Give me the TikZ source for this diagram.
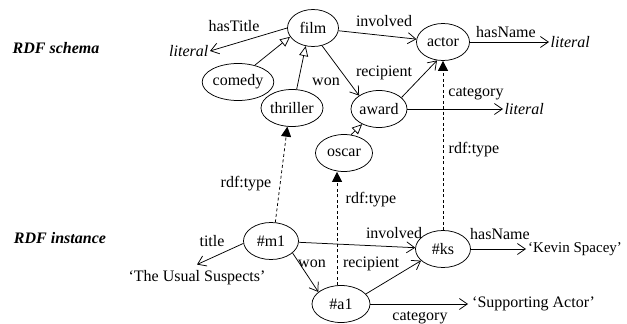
\documentclass[tikz,border=0pt]{standalone}
\usepackage{fontspec}
\setmainfont{Liberation Serif}
\usetikzlibrary{arrows.meta,shapes.geometric}
\begin{document}
\begin{tikzpicture}[x=1pt,y=-1pt,
  font=\fontsize{16}{19}\selectfont,
  cls/.style={draw,ellipse,inner sep=0pt,minimum height=37pt,line width=0.75pt},
  lit/.style={inner sep=1.5pt,font=\fontsize{16}{19}\selectfont\itshape},
  val/.style={inner sep=1.5pt},
  lbl/.style={inner sep=0pt},
  head/.style={inner sep=0pt,font=\fontsize{16}{19}\selectfont\bfseries\itshape},
  rel/.style={draw,line width=0.75pt,-{Straight Barb[length=8pt,width=11pt]}},
  sub/.style={draw,line width=0.75pt,-{Triangle[open,length=10pt,width=9pt,fill=white]}},
  typ/.style={draw,line width=0.75pt,dash pattern=on 3pt off 2.5pt,-{Triangle[length=10pt,width=10pt]}},
]
\useasboundingbox (0,0) rectangle (627,324);

% section headings
\node[head] (hschema) at (56,48) {RDF schema};
\node[head] (hinst) at (60,238) {RDF instance};

% schema classes
\node[cls,minimum width=51pt] (film) at (313,28) {film};
\node[cls,minimum width=53pt] (actor) at (443,42) {actor};
\node[cls,minimum width=70pt] (comedy) at (238,82) {comedy};
\node[cls,minimum width=62pt] (thriller) at (292,108) {thriller};
\node[cls,minimum width=56pt] (award) at (379,109) {award};
\node[cls,minimum width=57pt] (oscar) at (344,153) {oscar};

% literal targets
\node[lit,anchor=east] (lit1) at (210,51) {literal};
\node[lit,anchor=west] (lit2) at (549,42) {literal};
\node[lit,anchor=west] (lit3) at (503,109) {literal};

% instances
\node[cls,minimum width=55pt] (m1) at (271,241) {\#m1};
\node[cls,minimum width=55pt] (ks) at (443,249) {\#ks};
\node[cls,minimum width=58pt] (a1) at (341,304) {\#a1};

% literal values
\node[val,inner ysep=6pt] (tus) at (197,278) {‘The Usual Suspects’};
\node[val,anchor=west,inner xsep=2pt,font=\fontsize{15}{18}\selectfont] (kev) at (526,249) {‘Kevin Spacey’};
\node[val,anchor=west,inner xsep=4pt] (sa) at (468,304) {‘Supporting Actor’};

% schema properties
\draw[rel] (film.west) -- (lit1.east);
\draw[rel] (film) -- (actor);
\draw[rel] (actor.east) -- (lit2.west);
\draw[rel] (film.-63) -- (award.146);
\draw[rel] (award.27) -- (actor.-108);
\draw[rel] (award) -- (lit3.west);

% subclass links
\draw[sub] (comedy.45) -- (film.201);
\draw[sub] (thriller.76) -- (film.-112);
\draw[sub] (oscar.69) -- (award.222);

% type links
\draw[typ] (m1.77) -- (thriller.-104);
\draw[typ] (a1.102) -- (a1.102 |- oscar.south);
\draw[typ] (ks.north) -- (actor.south);

% instance properties
\draw[rel] (m1.185) -- (tus.north);
\draw[rel] (m1) -- (ks);
\draw[rel] (m1.-29) -- (a1.152);
\draw[rel] (a1.22) -- (ks.208);
\draw[rel] (a1) -- (sa.west);
\draw[rel] (ks) -- (kev.west);

% property labels
\node[lbl] (l-hastitle) at (234,26) {hasTitle};
\node[lbl] (l-involved) at (384,21) {involved};
\node[lbl] (l-hasname) at (506,32) {hasName};
\node[lbl] (l-recipient) at (384,73) {recipient};
\node[lbl] (l-won) at (326,82) {won};
\node[lbl] (l-category) at (476,94) {category};
\node[lbl] (l-type1) at (246,184) {rdf:type};
\node[lbl] (l-type2) at (371,200) {rdf:type};
\node[lbl] (l-type3) at (474,150) {rdf:type};
\node[lbl] (l-title) at (212,241) {title};
\node[lbl] (l-involved2) at (394,233) {involved};
\node[lbl] (l-won2) at (312,264) {won};
\node[lbl] (l-recipient2) at (371,264) {recipient};
\node[lbl] (l-hasname2) at (500,234) {hasName};
\node[lbl] (l-category2) at (420,318) {category};
\end{tikzpicture}
\end{document}
